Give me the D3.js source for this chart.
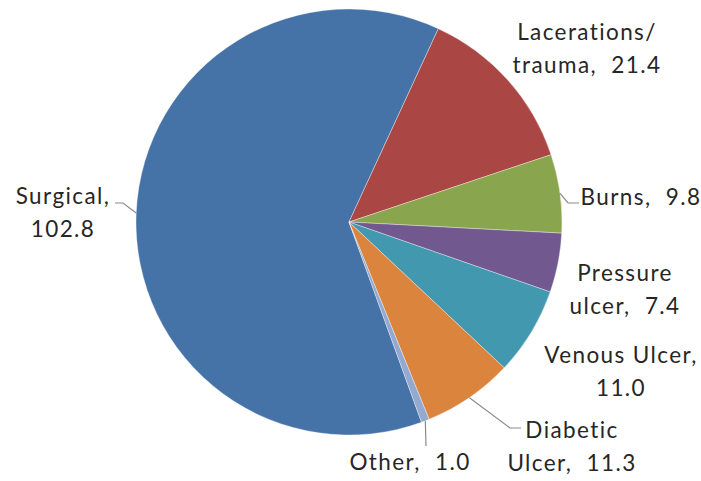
<!DOCTYPE html>
<html>
<head>
<meta charset="utf-8">
<script src="https://cdn.jsdelivr.net/npm/d3@7"></script>
<style>
  body { margin: 0; background: #fff; }
  svg text { font-family: Lato, "Open Sans", sans-serif; white-space: pre; }
</style>
</head>
<body>
<svg id="chart"></svg>
<script>
// wound types, clockwise from the top-left
const categories = ['Surgical', 'Lacerations/ trauma', 'Burns', 'Pressure ulcer', 'Venous Ulcer', 'Diabetic Ulcer', 'Other']
const values = [102.8, 21.4, 9.8, 7.4, 11.0, 11.3, 1.0]
const colors = ['#4572A7', '#AA4643', '#89A54E', '#71588F', '#4198AF', '#DB843D', '#93A9CF']
const labelLines = [
  ['Surgical,', '102.8'],
  ['Lacerations/', 'trauma,  21.4'],
  ['Burns,  9.8'],
  ['Pressure', 'ulcer,  7.4'],
  ['Venous Ulcer,', '11.0'],
  ['Diabetic', 'Ulcer,  11.3'],
  ['Other,  1.0']
]

const width = 701
const height = 481
const cx = 349
const cy = 222
const radius = 213
const fontSize = 22.5
const letterSpacing = 1.4
const lineGap = 33
const rotation = -199.9 * Math.PI / 180

// label block placement: centre x, first baseline y, leader elbow / end (null = no leader)
const labelLayout = [
  {x: 63, y: 204, leader: [[123, 203], [115, 203]]},
  {x: 587, y: 40, leader: null},
  {x: 641, y: 205, leader: [[568, 203], [579, 203]]},
  {x: 625, y: 281, leader: null},
  {x: 621, y: 363, leader: null},
  {x: 572, y: 438, leader: [[510, 428], [521, 428]]},
  {x: 410, y: 470, leader: [[426, 446]]}
]

const svg = d3.select('#chart')
  .attr('width', width)
  .attr('height', height)

const g = svg.append('g')
  .attr('transform', 'translate(' + cx + ',' + cy + ')')

const data = categories.map((c, i) => ({key: c, value: values[i], color: colors[i], lines: labelLines[i], layout: labelLayout[i]}))

const pie = d3.pie()
  .sort(null)
  .value((d) => d.value)
  .startAngle(rotation)
  .endAngle(rotation + 2 * Math.PI)

const arc = d3.arc()
  .innerRadius(0)
  .outerRadius(radius)

const arcs = pie(data)

g.selectAll('path.slice')
  .data(arcs)
  .enter()
  .append('path')
  .classed('slice', true)
  .attr('d', arc)
  .attr('fill', (d) => d.data.color)
  .attr('stroke', 'rgba(255,255,255,0.45)')
  .attr('stroke-width', 0.8)

// leader lines start at the rim on each slice's mid angle
const edgePoint = (d) => {
  const a = (d.startAngle + d.endAngle) / 2
  return [cx + radius * Math.sin(a), cy - radius * Math.cos(a)]
}

const line = d3.line()
svg.selectAll('path.leader')
  .data(arcs.filter((d) => d.data.layout.leader))
  .enter()
  .append('path')
  .classed('leader', true)
  .attr('d', (d) => line([edgePoint(d)].concat(d.data.layout.leader)))
  .attr('fill', 'none')
  .attr('stroke', '#8c8c8c')
  .attr('stroke-width', 1.2)

const labels = svg.selectAll('text.label')
  .data(arcs)
  .enter()
  .append('text')
  .classed('label', true)
  .attr('text-anchor', 'middle')
  .attr('font-size', fontSize)
  .attr('letter-spacing', letterSpacing)
  .attr('fill', '#262626')

labels.selectAll('tspan')
  .data((d) => d.data.lines.map((t) => ({t: t, layout: d.data.layout})))
  .enter()
  .append('tspan')
  .attr('x', (d) => d.layout.x)
  .attr('y', (d, i) => d.layout.y + i * lineGap)
  .text((d) => d.t)
</script>
</body>
</html>
